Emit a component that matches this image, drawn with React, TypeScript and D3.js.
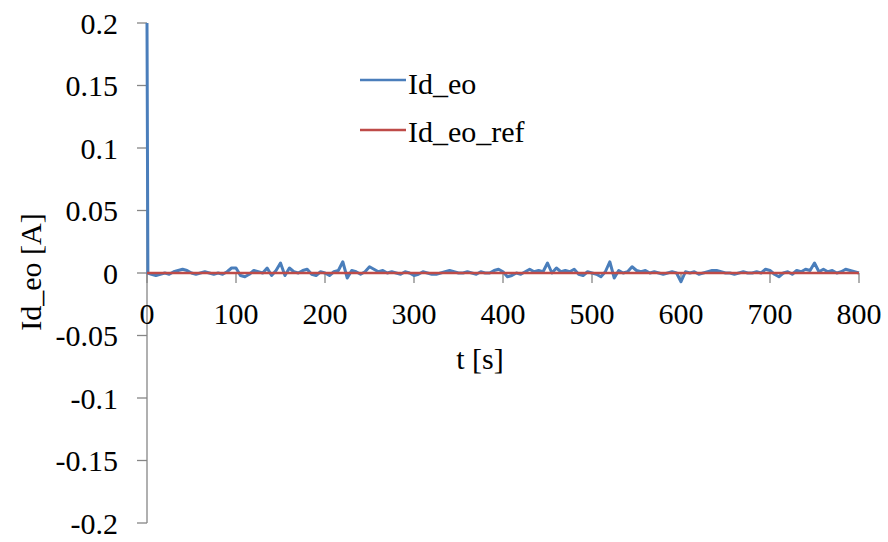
import React from "react";
import * as d3 from "d3";

const idEoStartT = [0, 1];
const idEoStartV = [0.2, 0];
// Id_eo noise, one value every 5 s from 5 to 800 s (unit: mA)
const idEoNoise = [
  -1, -2, -1, 0, -1, 1, 2, 3, 2, 0,
  -1, 0, 1, 0, -1, 0, -1, 1, 4, 4,
  -2, -3, -1, 2, 1, 0, 4, -2, 2, 8,
  -2, 4, 1, 0, 2, 3, -1, -2, 1, 0,
  -2, 1, 2, 9, -4, 2, 1, -1, 1, 5,
  3, 1, 2, 0, 1, 0, -1, 1, 0, -2,
  -1, 1, 0, -1, -1, 0, 1, 2, 1, 0,
  0, 1, 0, -1, 1, 0, 0, 2, 3, 1,
  -3, -2, 0, -1, 1, 3, 1, 2, 1, 8,
  0, 4, 1, 2, 1, 3, -1, -2, 1, 0,
  -1, -3, 1, 9, -4, 2, 0, 1, 5, 2,
  1, 2, 0, 1, 0, -1, 0, 1, 0, -7,
  1, 0, 1, -1, 0, 1, 2, 2, 1, 0,
  0, -1, 0, 1, 0, 0, 1, 0, 3, 2,
  -1, -3, 0, 1, -1, 2, 1, 3, 2, 8,
  1, 3, 1, 2, 0, 1, 3, 2, 1, 0,
];
const refT = [0, 800];
const refV = [0, 0];
const xTicks = [0, 100, 200, 300, 400, 500, 600, 700, 800];
const yTicks = [0.2, 0.15, 0.1, 0.05, 0, -0.05, -0.1, -0.15, -0.2];
const seriesNames = ["Id_eo", "Id_eo_ref"];

export default function App() {
  const W = 888, H = 542;
  const x = d3.scaleLinear().domain([0, 800]).range([147, 859]);
  const y = d3.scaleLinear().domain([-0.2, 0.2]).range([523, 23]);

  const blue: [number, number][] = idEoStartT.map((t, i) => [t, idEoStartV[i]]);
  idEoNoise.forEach((v, i) => blue.push([(i + 1) * 5, v / 1000]));
  const red: [number, number][] = refT.map((t, i) => [t, refV[i]]);

  const line = d3.line<[number, number]>().x(d => x(d[0])).y(d => y(d[1]));
  const axisColor = "#868686";
  const fs = 30;
  const ts: React.CSSProperties = { fontFamily: '"Liberation Serif", "Times New Roman", Times, serif' };

  return (
    <svg width={W} height={H} style={{ position: "absolute", left: 0, top: 0, background: "#fff" }}>
      {/* y axis */}
      <line x1={x(0)} x2={x(0)} y1={y(0.2)} y2={y(-0.2)} stroke={axisColor} strokeWidth={1.3} />
      {yTicks.map(t => (
        <g key={"y" + t}>
          <line x1={x(0) - 10} x2={x(0)} y1={y(t)} y2={y(t)} stroke={axisColor} strokeWidth={1.3} />
          <text style={ts} x={118} y={y(t)} dy="0.35em" textAnchor="end" fontSize={fs} fill="#000">{String(t)}</text>
        </g>
      ))}
      {/* x axis */}
      <line x1={x(0)} x2={x(800)} y1={y(0)} y2={y(0)} stroke={axisColor} strokeWidth={1.3} />
      {xTicks.map(t => (
        <g key={"x" + t}>
          <line x1={x(t)} x2={x(t)} y1={y(0)} y2={y(0) + 10} stroke={axisColor} strokeWidth={1.3} />
          <text style={ts} x={x(t)} y={y(0) + 40} dy="0.35em" textAnchor="middle" fontSize={fs} fill="#000">{String(t)}</text>
        </g>
      ))}
      {/* series */}
      <path d={line(blue) || ""} fill="none" stroke="#4A7EBB" strokeWidth={3} strokeLinejoin="round" />
      <path d={line(red) || ""} fill="none" stroke="#BE4B48" strokeWidth={2.5} />
      {/* axis titles */}
      <text style={ts} x={480} y={358} dy="0.35em" textAnchor="middle" fontSize={fs} fill="#000">t [s]</text>
      <text style={ts} transform={`translate(30,${272}) rotate(-90)`} dy="0.35em" textAnchor="middle" fontSize={fs} fill="#000">Id_eo [A]</text>
      {/* legend */}
      <line x1={360} x2={406} y1={80} y2={80} stroke="#4A7EBB" strokeWidth={2.5} />
      <text style={ts} x={408} y={83} dy="0.35em" fontSize={fs} fill="#000">{seriesNames[0]}</text>
      <line x1={360} x2={406} y1={130} y2={130} stroke="#BE4B48" strokeWidth={2.5} />
      <text style={ts} x={408} y={131} dy="0.35em" fontSize={fs} fill="#000">{seriesNames[1]}</text>
    </svg>
  );
}
